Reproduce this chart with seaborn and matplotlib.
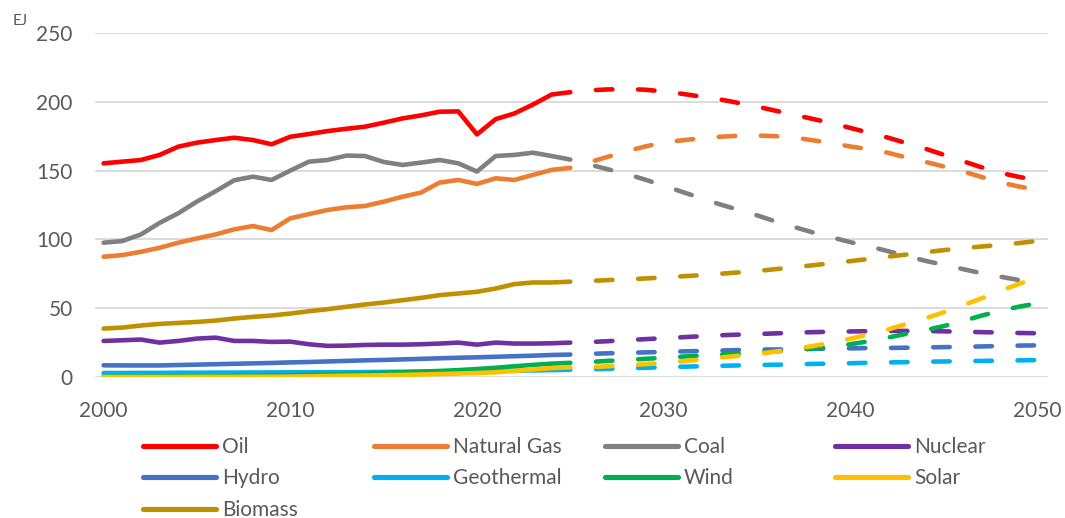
import matplotlib
matplotlib.use("Agg")
import matplotlib.pyplot as plt
from matplotlib.lines import Line2D
import pandas as pd
import seaborn as sns

# Primary energy supply by source (EJ): history 2000-2025, outlook 2025-2050
hist_years = list(range(2000, 2026))
proj_years = list(range(2025, 2051))

sources = ["Oil", "Natural Gas", "Coal", "Nuclear", "Hydro",
           "Geothermal", "Wind", "Solar", "Biomass"]

colors = ["#FF0000", "#ED7D31", "#808080", "#7030A0", "#4472C4",
          "#00B0F0", "#00B050", "#FFC000", "#BF9000"]

oil_hist = [155.3, 156.5, 157.7, 161.4, 167.4, 170.3, 172.2, 173.9, 172.2, 169.1,
            174.6, 176.6, 178.7, 180.4, 181.9, 184.8, 187.9, 190.1, 192.8, 193.0,
            176.3, 187.4, 191.5, 198.0, 205.3, 207.0]
oil_proj = [207.0, 208.3, 209.0, 209.2, 208.8, 207.5, 205.8, 203.8, 201.8, 199.2,
            196.5, 193.5, 190.5, 187.5, 184.5, 181.0, 177.5, 174.0, 170.0, 166.0,
            161.5, 157.0, 152.5, 148.5, 145.5, 143.0]

gas_hist = [87.4, 88.6, 91.0, 93.9, 97.6, 100.7, 103.6, 107.3, 109.7, 106.8,
            115.3, 118.4, 121.4, 123.3, 124.3, 127.4, 131.0, 134.0, 141.3, 143.2,
            140.3, 144.4, 143.2, 146.9, 150.5, 152.0]
gas_proj = [152.0, 156.0, 160.0, 164.0, 167.5, 170.5, 172.0, 173.5, 174.6, 175.3,
            175.5, 175.0, 174.0, 172.0, 170.0, 167.5, 165.5, 163.0, 159.5, 156.4,
            153.0, 149.5, 145.5, 141.5, 138.5, 136.0]

coal_hist = [97.6, 98.8, 103.6, 112.0, 119.0, 127.5, 135.0, 143.0, 145.6, 143.2,
             150.0, 156.5, 157.7, 160.9, 160.6, 156.3, 154.1, 155.8, 157.7, 155.3,
             149.3, 160.6, 161.4, 163.0, 160.6, 158.0]
coal_proj = [158.0, 154.5, 151.0, 147.5, 143.5, 139.0, 134.5, 130.0, 125.5, 121.5,
             117.5, 113.0, 109.0, 105.0, 101.5, 98.0, 95.0, 91.5, 88.0, 84.5,
             81.5, 78.5, 75.5, 73.0, 70.5, 68.5]

nuclear_hist = [26.2, 26.7, 27.2, 25.0, 26.2, 27.9, 28.6, 26.2, 26.2, 25.5,
                25.7, 23.8, 22.6, 22.8, 23.3, 23.5, 23.5, 23.8, 24.3, 25.0,
                23.5, 25.0, 24.3, 24.3, 24.5, 25.0]
nuclear_proj = [25.0, 25.4, 26.0, 26.8, 27.5, 28.2, 28.9, 29.6, 30.3, 30.8,
                31.2, 31.7, 32.2, 32.6, 32.9, 33.1, 33.3, 33.5, 33.5, 33.4,
                33.2, 32.9, 32.6, 32.3, 32.0, 31.8]

hydro_hist = [8.5, 8.4, 8.4, 8.4, 8.7, 9.0, 9.3, 9.6, 9.9, 10.2,
              10.6, 10.9, 11.3, 11.7, 12.1, 12.4, 12.8, 13.2, 13.6, 14.0,
              14.3, 14.7, 15.1, 15.5, 16.0, 16.3]
hydro_proj = [16.3, 16.8, 17.2, 17.6, 17.9, 18.2, 18.6, 18.9, 19.2, 19.6,
              19.9, 20.0, 20.2, 20.4, 20.6, 20.8, 21.0, 21.1, 21.3, 21.5,
              21.7, 21.9, 22.2, 22.5, 22.8, 23.0]

geo_hist = [2.9, 2.9, 3.0, 3.0, 3.1, 3.1, 3.2, 3.2, 3.3, 3.3,
            3.4, 3.4, 3.5, 3.5, 3.6, 3.7, 3.8, 3.9, 4.0, 4.1,
            4.2, 4.4, 4.6, 4.8, 5.0, 5.3]
geo_proj = [5.3, 5.6, 5.9, 6.3, 6.7, 7.1, 7.5, 7.8, 8.1, 8.4,
            8.7, 8.9, 9.2, 9.5, 9.8, 10.0, 10.3, 10.6, 10.8, 11.1,
            11.3, 11.5, 11.7, 11.9, 12.1, 12.3]

wind_hist = [0.1, 0.2, 0.2, 0.3, 0.3, 0.4, 0.5, 0.6, 0.8, 1.0,
             1.2, 1.5, 1.8, 2.2, 2.6, 3.0, 3.4, 3.9, 4.4, 5.0,
             5.8, 6.7, 7.8, 8.8, 9.7, 10.3]
wind_proj = [10.3, 10.9, 11.7, 12.4, 13.2, 14.0, 14.8, 15.6, 16.4, 17.0,
             17.6, 18.6, 19.6, 20.8, 22.2, 23.8, 26.0, 28.6, 31.4, 34.0,
             37.0, 40.5, 44.5, 48.0, 51.0, 53.5]

solar_hist = [0.0, 0.0, 0.0, 0.0, 0.0, 0.1, 0.1, 0.1, 0.2, 0.2,
              0.3, 0.5, 0.7, 0.9, 1.1, 1.3, 1.5, 1.8, 2.1, 2.5,
              2.9, 3.4, 4.4, 5.5, 6.5, 7.0]
solar_proj = [7.0, 7.2, 7.8, 8.5, 9.3, 10.3, 11.4, 12.7, 14.1, 15.4,
              16.7, 18.5, 20.5, 22.5, 25.0, 27.8, 31.0, 34.5, 38.5, 42.5,
              47.0, 52.0, 57.0, 62.5, 67.5, 72.0]

biomass_hist = [35.2, 35.9, 37.4, 38.6, 39.3, 40.0, 41.0, 42.5, 43.7, 44.7,
                46.1, 47.8, 49.3, 51.0, 52.7, 54.1, 55.8, 57.5, 59.5, 60.7,
                61.9, 64.3, 67.5, 68.7, 68.7, 69.3]
biomass_proj = [69.3, 69.8, 70.4, 71.0, 71.6, 72.3, 73.2, 74.0, 75.0, 76.0,
                77.0, 78.4, 79.8, 81.2, 82.7, 84.2, 85.8, 87.4, 89.0, 90.6,
                92.2, 93.5, 94.8, 96.0, 97.3, 98.8]

hist_series = [oil_hist, gas_hist, coal_hist, nuclear_hist, hydro_hist,
               geo_hist, wind_hist, solar_hist, biomass_hist]
proj_series = [oil_proj, gas_proj, coal_proj, nuclear_proj, hydro_proj,
               geo_proj, wind_proj, solar_proj, biomass_proj]

y_ticks = [0, 50, 100, 150, 200, 250]
x_ticks = [2000, 2010, 2020, 2030, 2040, 2050]
unit_label = "EJ"

# Long-form table: one row per source, year and period
rows = []
for name, h, p in zip(sources, hist_series, proj_series):
    for yr, v in zip(hist_years, h):
        rows.append({"year": yr, "value": v, "source": name, "period": "history"})
    for yr, v in zip(proj_years, p):
        rows.append({"year": yr, "value": v, "source": name, "period": "outlook"})
df = pd.DataFrame(rows)

sns.set_theme(style="white")
plt.rcParams["font.family"] = ["Lato", "DejaVu Sans"]
text_color = "#595959"

fig = plt.figure(figsize=(10.65, 5.18), dpi=100)
ax = fig.add_axes([95 / 1065, 1 - 377 / 518, (1047.5 - 95) / 1065, (377 - 33) / 518])

palette = dict(zip(sources, colors))
lw = 3.3
dash_on, dash_off = 3.6, 5.6
sns.lineplot(data=df, x="year", y="value", hue="source", style="period",
             hue_order=sources, style_order=["history", "outlook"],
             palette=palette, dashes={"history": "", "outlook": (dash_on, dash_off)},
             linewidth=lw, legend=False, ax=ax, errorbar=None,
             solid_capstyle="round", dash_capstyle="round",
             solid_joinstyle="round", dash_joinstyle="round",
             estimator=None, sort=True)

# Start each outlook dash pattern with a gap so it separates from the history line
for line in ax.get_lines():
    if line.get_linestyle() == "--":
        line.set_linestyle((dash_on, (dash_on, dash_off)))
        line.set_dash_capstyle("round")

ax.set_xlim(1999.54, 2050.56)
ax.set_ylim(0, 250)
ax.set_yticks(y_ticks)
ax.set_xticks(x_ticks)
ax.set_xlabel("")
ax.set_ylabel("")
ax.grid(axis="y", color="#D9D9D9", linewidth=1.3)
ax.grid(axis="x", visible=False)
ax.set_axisbelow(True)
for s in ax.spines.values():
    s.set_visible(False)
ax.tick_params(axis="both", length=0, labelsize=15, colors=text_color)
ax.tick_params(axis="y", pad=16)
ax.tick_params(axis="x", pad=17)

fig.text(13 / 1065, 1 - 21 / 518, unit_label, fontsize=11, color=text_color,
         ha="left", va="center")

# Legend: four columns of evenly spaced entries beneath the chart
legend_cols = [[0, 4, 8], [1, 5], [2, 6], [3, 7]]
col_x = [143, 374, 605, 835]
for cx, idxs in zip(col_x, legend_cols):
    handles = [Line2D([0], [0], color=colors[i], lw=3.7, solid_capstyle="round")
               for i in idxs]
    labels = [sources[i] for i in idxs]
    leg = fig.legend(handles, labels, loc="upper left",
                     bbox_to_anchor=(cx / 1065, 1 - 437 / 518),
                     frameon=False, fontsize=15, handlelength=3.5,
                     handletextpad=0.3, labelspacing=0.55,
                     borderpad=0, borderaxespad=0)
    for t in leg.get_texts():
        t.set_color(text_color)

fig.savefig("out.png", dpi=100)
